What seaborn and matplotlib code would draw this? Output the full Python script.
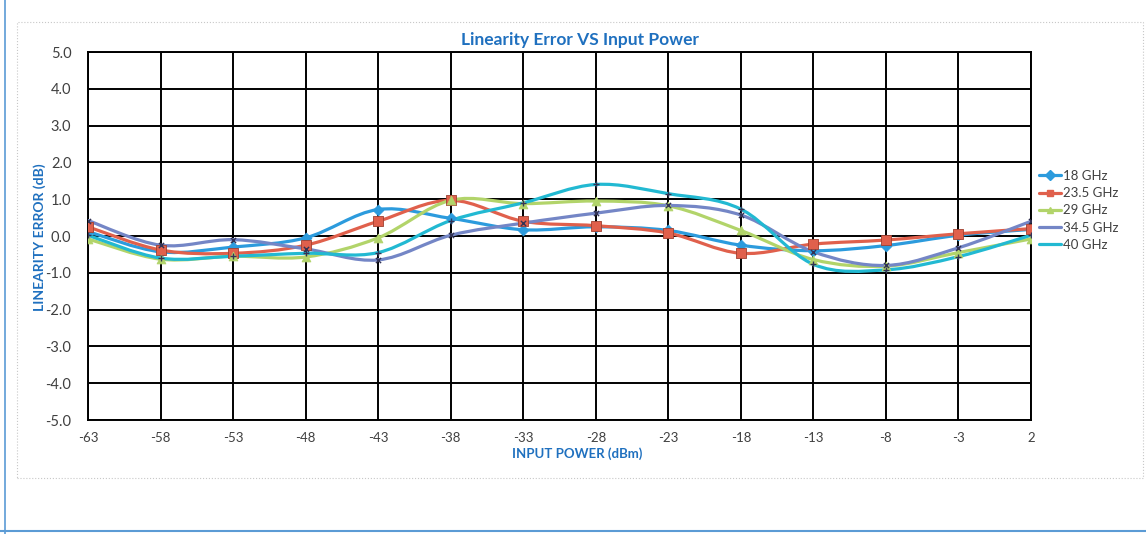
import numpy as np
import pandas as pd
import seaborn as sns
import matplotlib.pyplot as plt
from matplotlib.path import Path
from matplotlib.patches import PathPatch, Rectangle
from matplotlib.lines import Line2D

# input power (dBm)
power = [-63, -58, -53, -48, -43, -38, -33, -28, -23, -18, -13, -8, -3, 2]

err_18 = [0.12, -0.43, -0.30, -0.05, 0.72, 0.48, 0.17, 0.25, 0.15, -0.25, -0.40, -0.26, 0.02, 0.18]
err_23_5 = [0.25, -0.38, -0.47, -0.25, 0.40, 0.97, 0.40, 0.28, 0.08, -0.47, -0.22, -0.11, 0.06, 0.20]
err_29 = [-0.08, -0.63, -0.55, -0.57, -0.05, 0.97, 0.88, 0.95, 0.82, 0.15, -0.64, -0.82, -0.45, -0.08]
err_34_5 = [0.42, -0.25, -0.10, -0.35, -0.65, 0.02, 0.35, 0.62, 0.83, 0.57, -0.43, -0.80, -0.32, 0.40]
err_40 = [0.02, -0.60, -0.55, -0.47, -0.45, 0.42, 0.90, 1.40, 1.15, 0.73, -0.77, -0.92, -0.56, 0.02]

names = ['18 GHz', '23.5 GHz', '29 GHz', '34.5 GHz', '40 GHz']
series = [err_18, err_23_5, err_29, err_34_5, err_40]
colors = ['#2C9BDD', '#E0604C', '#B2D46A', '#7486C6', '#22B9D2']
markers = ['D', 's', '^', 'x', '+']
msizes = [30, 42, 40, 14, 16]

txt_blue = '#1F70BF'

sns.set_style('white')
plt.rcParams['font.family'] = ['Lato', 'DejaVu Sans']
plt.rcParams['axes.unicode_minus'] = False

fig = plt.figure(figsize=(11.46, 5.34), dpi=100)
ax = fig.add_axes([88 / 1146, 1 - 420 / 534, (1031 - 88) / 1146, (420 - 52) / 534])


def smooth_path(xs, ys):
    # excel style smoothed line (bezier through the points)
    pts = np.column_stack([xs, ys]).astype(float)
    n = len(pts)
    verts = [pts[0]]
    codes = [Path.MOVETO]
    for i in range(n - 1):
        p0 = pts[max(i - 1, 0)]
        p1 = pts[i]
        p2 = pts[i + 1]
        p3 = pts[min(i + 2, n - 1)]
        c1 = p1 + (p2 - p0) / 6.0
        c2 = p2 - (p3 - p1) / 6.0
        verts += [c1, c2, p2]
        codes += [Path.CURVE4] * 3
    return Path(verts, codes)


rows = []
for name, vals in zip(names, series):
    for p, v in zip(power, vals):
        rows.append({'power': p, 'error': v, 'freq': name})
df = pd.DataFrame(rows)

for name, vals, col in zip(names, series, colors):
    patch = PathPatch(smooth_path(power, vals), facecolor='none', edgecolor=col,
                      lw=2.3, zorder=3, capstyle='round')
    ax.add_patch(patch)

for name, col, mk, ms in zip(names, colors, markers, msizes):
    sub = df[df['freq'] == name]
    if mk in ['x', '+']:
        sns.scatterplot(data=sub, x='power', y='error', color='#333355', marker=mk,
                        s=ms, linewidth=1.0, ax=ax, zorder=4, legend=False)
    else:
        sns.scatterplot(data=sub, x='power', y='error', color=col, marker=mk, s=ms,
                        edgecolor='#A04030' if mk == 's' else col, linewidth=0.6,
                        ax=ax, zorder=4, legend=False)

ax.set_xlim(-63, 2)
ax.set_ylim(-5, 5)
ax.set_xticks(power)
ax.set_yticks(np.arange(-5, 5.1, 1))
ax.set_yticklabels([f'{v:.1f}' for v in np.arange(-5, 5.1, 1)])
ax.grid(True, color='black', lw=1.4)
ax.set_axisbelow(True)
for sp in ax.spines.values():
    sp.set_color('black')
    sp.set_linewidth(1.4)
ax.tick_params(axis='y', length=0, colors='#404040', labelsize=10.5, pad=12)
ax.tick_params(axis='x', length=0, colors='#404040', labelsize=9.5, pad=9)
ax.set_xlabel('')
ax.set_ylabel('')

fig.text(580 / 1146, 1 - 40 / 534, 'Linearity Error VS Input Power', ha='center', va='center',
         fontsize=12.5, fontweight='bold', color=txt_blue)
fig.text(40 / 1146, 1 - 237 / 534, 'LINEARITY ERROR (dB)', ha='center', va='center',
         rotation=90, fontsize=10, fontweight='bold', color=txt_blue)
fig.text(577 / 1146, 1 - 454 / 534, 'INPUT POWER (dBm)', ha='center', va='center',
         fontsize=9.5, fontweight='bold', color=txt_blue)

handles = []
for name, col, mk in zip(names, colors, markers):
    if mk in ['x', '+']:
        h = Line2D([], [], color=col, lw=2.3)
    else:
        h = Line2D([], [], color=col, lw=2.3, marker=mk, markersize=5, markerfacecolor=col,
                   markeredgecolor=col)
    handles.append(h)
fig.legend(handles, names, loc='upper left', bbox_to_anchor=(1027 / 1146, 1 - 158 / 534),
           frameon=False, fontsize=9.5, handlelength=1.7, handletextpad=0.15,
           labelspacing=0.4, labelcolor='#404040')

# chart area border and page edge
fig.patches.append(Rectangle((17 / 1146, 1 - 478 / 534), 1126 / 1146, 456 / 534,
                             transform=fig.transFigure, fill=False, ec='#C8C8C8',
                             lw=0.8, ls=':'))
fig.lines.append(Line2D([5 / 1146, 5 / 1146], [0, 1], transform=fig.transFigure,
                        color='#5B9BD5', lw=1.2))
fig.lines.append(Line2D([0, 1], [3 / 534, 3 / 534], transform=fig.transFigure,
                        color='#5B9BD5', lw=1.5))

fig.savefig('out.png', dpi=100)
